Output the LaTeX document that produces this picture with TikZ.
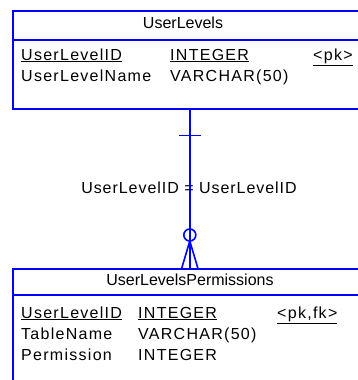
\documentclass[tikz,border=0pt]{standalone}
\usepackage{fontspec}
\setmainfont{Liberation Sans}
\newfontfamily\rowfont[LetterSpace=8]{Liberation Sans}
\newfontfamily\lblfont[LetterSpace=6]{Liberation Sans}
\usetikzlibrary{calc}
\definecolor{erblue}{RGB}{0,0,255}
\begin{document}
\begin{tikzpicture}[x=1pt,y=-1pt,
  entbox/.style={draw=erblue, line width=1.6pt, rectangle, inner sep=0pt, anchor=north west},
  sepline/.style={draw=erblue, line width=1.6pt},
  rel/.style={draw=erblue, line width=1.6pt},
  rowtxt/.style={anchor=base west, inner sep=0pt, font=\rowfont\fontsize{16}{19}\selectfont},
  titletxt/.style={anchor=base, inner sep=0pt, font=\fontsize{16}{19}\selectfont},
  lbltxt/.style={anchor=base, inner sep=0pt, font=\lblfont\fontsize{16}{19}\selectfont}]
\useasboundingbox (0,0) rectangle (357,380);
\fill[white] (0,0) rectangle (357,380);

% entity UserLevels
\node[entbox, minimum width=354pt, minimum height=98pt] (ul) at (12,10) {};
\draw[sepline] ([yshift=-30pt]ul.north west) -- ([yshift=-30pt]ul.north east);
\node[titletxt] (ultitle) at (183,28) {UserLevels};
\node[rowtxt] (ulr1a) at (21,60) {\underline{UserLevelID}};
\node[rowtxt] (ulr1b) at (170,60) {\underline{INTEGER}};
\node[rowtxt] (ulr1c) at (313,60) {\underline{<pk>}};
\node[rowtxt] (ulr2a) at (21,81) {UserLevelName};
\node[rowtxt] (ulr2b) at (170,81) {VARCHAR(50)};

% entity UserLevelsPermissions
\node[entbox, minimum width=354pt, minimum height=130pt] (ulp) at (12,268) {};
\draw[sepline] ([yshift=-27pt]ulp.north west) -- ([yshift=-27pt]ulp.north east);
\node[titletxt] (ulptitle) at (190,285) {UserLevelsPermissions};
\node[rowtxt] (ulpr1a) at (21,318) {\underline{UserLevelID}};
\node[rowtxt] (ulpr1b) at (138,318) {\underline{INTEGER}};
\node[rowtxt] (ulpr1c) at (277,318) {\underline{<pk,fk>}};
\node[rowtxt] (ulpr2a) at (21,339) {TableName};
\node[rowtxt] (ulpr2b) at (138,339) {VARCHAR(50)};
\node[rowtxt] (ulpr3a) at (21,360) {Permission};
\node[rowtxt] (ulpr3b) at (138,360) {INTEGER};

% relationship
\node[lbltxt] (lab) at (189,193) {UserLevelID = UserLevelID};
\draw[rel] (ul.south) -- (ulp.north);
\draw[rel] ($(ul.south)+(-11,26)$) -- ($(ul.south)+(11,26)$);
\draw[rel] ($(ulp.north)+(0,-33)$) circle[radius=6pt];
\draw[rel] ($(ulp.north)+(-8,0)$) -- ($(ulp.north)+(0,-27)$) -- ($(ulp.north)+(8,0)$);
\end{tikzpicture}
\end{document}
